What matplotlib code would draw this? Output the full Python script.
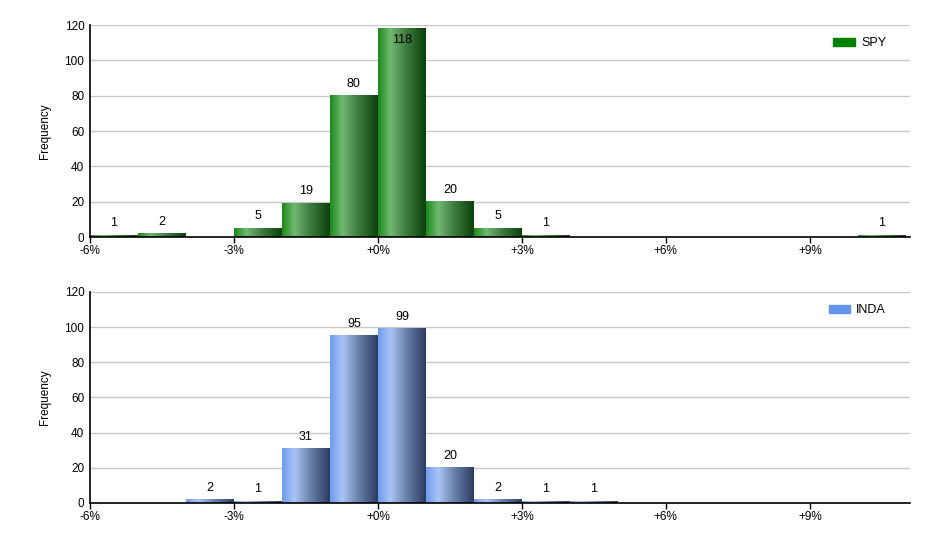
import numpy as np
import matplotlib.pyplot as plt
from matplotlib.colors import LinearSegmentedColormap
from matplotlib.patches import Patch

# histogram bins: left edge of each 1% bin
spy_bins = [-6, -5, -3, -2, -1, 0, 1, 2, 3, 10]
spy_counts = [1, 2, 5, 19, 80, 118, 20, 5, 1, 1]

inda_bins = [-4, -3, -2, -1, 0, 1, 2, 3, 4]
inda_counts = [2, 1, 31, 95, 99, 20, 2, 1, 1]

xticks = [-6, -3, 0, 3, 6, 9]
xticklabels = ['-6%', '-3%', '+0%', '+3%', '+6%', '+9%']

plt.rcParams['font.family'] = ['Liberation Sans', 'DejaVu Sans']
plt.rcParams['font.size'] = 8.5

green_cm = LinearSegmentedColormap.from_list(
    'g', [(0, '#1a8c1a'), (0.25, '#72b872'), (0.6, '#3d7a3d'), (1, '#0b420b')])
blue_cm = LinearSegmentedColormap.from_list(
    'b', [(0, '#6e9cf0'), (0.25, '#abc5f5'), (0.6, '#6a7fa8'), (1, '#2c3d63')])

fig = plt.figure(figsize=(9.4, 5.5), dpi=100)
ax1 = fig.add_axes([0.0957, 0.569, 0.872, 0.3855])
ax2 = fig.add_axes([0.0957, 0.0855, 0.872, 0.3836])

grad = np.linspace(0, 1, 64).reshape(1, -1)


def draw(ax, bins, counts, cmap, legcolor, name):
    for b, c in zip(bins, counts):
        ax.imshow(grad, cmap=cmap, extent=[b, b + 1, 0, c], aspect='auto',
                  interpolation='bilinear', zorder=2)
        ty = min(c + 6.8, 111.5)
        ax.text(b + 0.5, ty, str(c), ha='center', va='center', fontsize=9,
                color='black', zorder=3)
    ax.set_xlim(-6, 11.08)
    ax.set_ylim(0, 120)
    ax.set_yticks(range(0, 121, 20))
    ax.set_xticks(xticks)
    ax.set_xticklabels(xticklabels)
    ax.grid(axis='y', color='#c8c8c8', linewidth=1, zorder=0)
    ax.set_axisbelow(True)
    for s in ['top', 'right']:
        ax.spines[s].set_visible(False)
    ax.spines['left'].set_linewidth(1.2)
    ax.spines['bottom'].set_linewidth(1.2)
    ax.tick_params(axis='y', length=0, pad=4)
    ax.tick_params(axis='x', length=4, width=1, pad=2)
    ax.set_ylabel('Frequency', labelpad=10)
    ax.legend(handles=[Patch(color=legcolor)], labels=[name],
              loc='upper right', bbox_to_anchor=(0.985, 0.995), frameon=False,
              handlelength=1.7, handleheight=0.7, handletextpad=0.5,
              fontsize=9)


draw(ax1, spy_bins, spy_counts, green_cm, '#008000', 'SPY')
draw(ax2, inda_bins, inda_counts, blue_cm, '#6495ed', 'INDA')

fig.savefig('out.png', dpi=100)
